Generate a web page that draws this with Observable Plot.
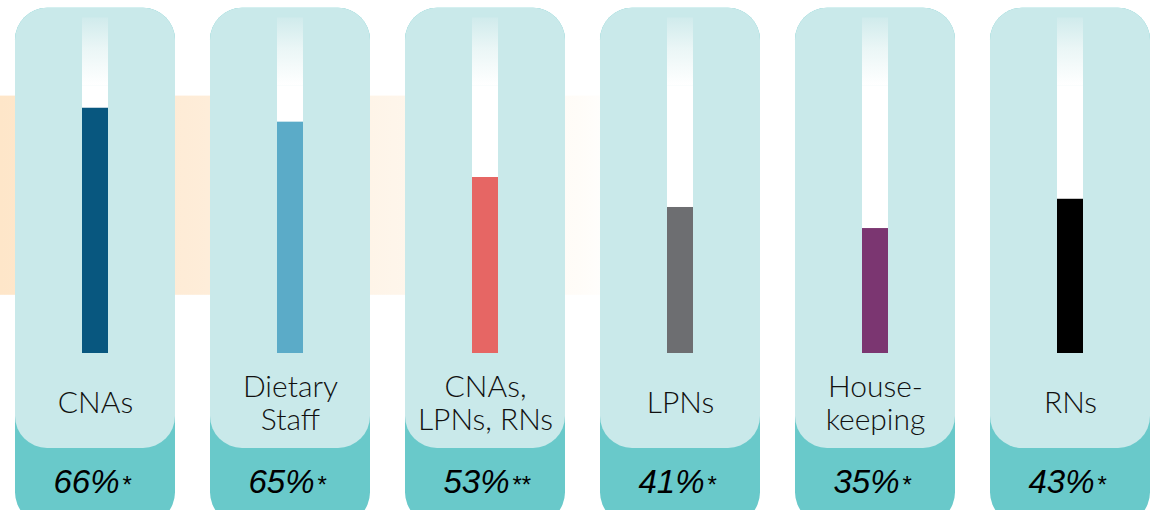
<!DOCTYPE html>
<html>
<head>
<meta charset="utf-8">
<script src="https://cdn.jsdelivr.net/npm/d3@7"></script>
<script src="https://cdn.jsdelivr.net/npm/@observablehq/plot@0.6"></script>
<style>
  html, body { margin: 0; padding: 0; background: #ffffff; }
  svg { display: block; }
</style>
</head>
<body>
<div id="chart"></div>
<script>
// ---- data ----
const categories = ["CNAs", "Dietary Staff", "CNAs, LPNs, RNs", "LPNs", "Housekeeping", "RNs"];
const labelLines = ["CNAs", "Dietary\nStaff", "CNAs,\nLPNs, RNs", "LPNs", "House-\nkeeping", "RNs"];
const percents = [66, 65, 53, 41, 35, 43];
const markers = ["*", "*", "**", "*", "*", "*"];
// bar fill level as drawn in the picture (percent of the gauge scale)
const barLevels = [68.7, 64.8, 49.3, 40.9, 35.0, 43.2];

const rows = categories.map((c, i) => ({
  category: c,
  label: labelLines[i],
  percent: percents[i],
  marker: markers[i],
  level: barLevels[i]
}));

const chart = Plot.plot({
  width: 1157,
  height: 510,
  margin: 0,
  style: { background: "#ffffff", overflow: "hidden" },
  x: { type: "band", domain: categories, range: [14, 1151], paddingInner: 0.182, paddingOuter: 0, axis: null },
  y: { domain: [0, 100], range: [353, -4], axis: null },
  color: {
    domain: categories,
    range: ["#08577f", "#5babc8", "#e66664", "#6d6e71", "#7b3671", "#000000"]
  },
  marks: [
    // warm backdrop band
    Plot.rect([0], { y1: 16.3, y2: 72.1, fill: "url(#warmFade)" }),
    // card: dark teal footer
    Plot.barY(rows, { x: "category", y1: -48, y2: 96.7, fill: "#69c9ca", rx: 32 }),
    // card: light teal body
    Plot.barY(rows, { x: "category", y1: -26.6, y2: 96.7, fill: "#c9e9ea", rx: 32 }),
    // gauge track (fade at top)
    Plot.barY(rows, { x: "category", y1: 74.9, y2: 94.0, fill: "url(#trackFade)", insetLeft: 67, insetRight: 67 }),
    Plot.barY(rows, { x: "category", y1: 0, y2: 75.0, fill: "#ffffff", insetLeft: 67, insetRight: 67 }),
    // gauge level
    Plot.barY(rows, { x: "category", y: "level", fill: "category", insetLeft: 67, insetRight: 67 }),
    // category labels
    Plot.text(rows, {
      x: "category", y: () => -13.74, text: "label",
      lineAnchor: "middle", lineHeight: 1.1,
      fontSize: 30, fontWeight: 300, fill: "#111111",
      fontFamily: "Lato, 'Open Sans', 'Noto Sans', sans-serif"
    }),
    // percentages
    Plot.text(rows, {
      x: "category", y: () => -36.2, text: d => d.percent + "%",
      lineAnchor: "middle", textAnchor: "end", dx: 24,
      fontSize: 33, fontStyle: "italic", fill: "#000000",
      fontFamily: "'Liberation Sans', sans-serif"
    }),
    // significance markers
    Plot.text(rows, {
      x: "category", y: () => -36, text: "marker",
      lineAnchor: "middle", textAnchor: "start", dx: 27, dy: 3,
      fontSize: 24, fill: "#000000",
      fontFamily: "'Liberation Sans', sans-serif"
    })
  ]
});

// gradients
chart.insertAdjacentHTML("afterbegin", `
<defs>
  <linearGradient id="warmFade" x1="0" y1="0" x2="1" y2="0">
    <stop offset="0" stop-color="#fee6c9"/>
    <stop offset="0.16" stop-color="#feecd7"/>
    <stop offset="0.34" stop-color="#fef5ea"/>
    <stop offset="0.50" stop-color="#fffcf8"/>
    <stop offset="0.54" stop-color="#ffffff"/>
  </linearGradient>
  <linearGradient id="trackFade" x1="0" y1="0" x2="0" y2="1">
    <stop offset="0" stop-color="#d0ebec"/>
    <stop offset="0.45" stop-color="#eaf6f6"/>
    <stop offset="1" stop-color="#ffffff"/>
  </linearGradient>
</defs>`);

document.getElementById("chart").appendChild(chart);
</script>
</body>
</html>
